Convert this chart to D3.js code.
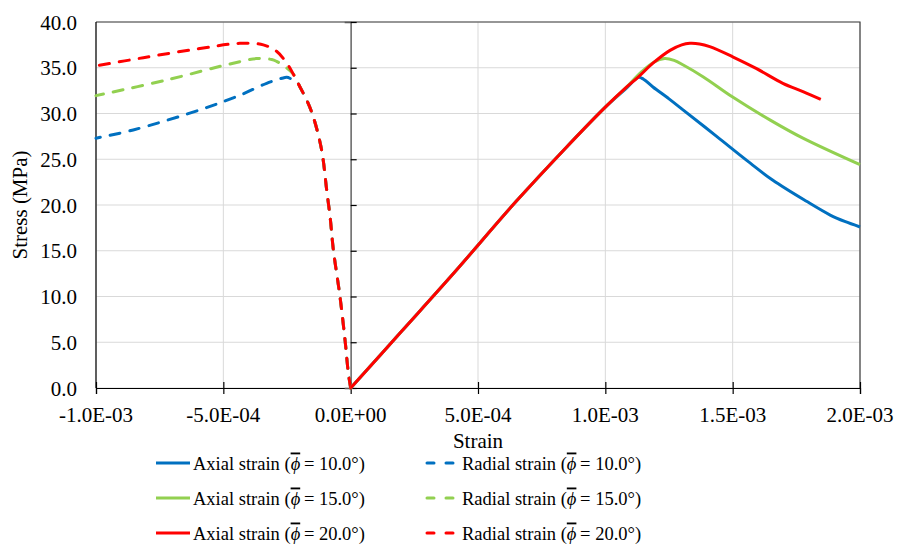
<!DOCTYPE html>
<html>
<head>
<meta charset="utf-8">
<script src="https://cdn.jsdelivr.net/npm/d3@7"></script>
</head>
<body style="margin:0">
<svg id="chart" width="898" height="545"></svg>
<script>
/* DATA: [strain, stress in MPa] */
const angles = ["10.0", "15.0", "20.0"];
const colors = ["#0070C0", "#92D050", "#FF0000"];

const axial10 = [[0, 0], [0.2e-3, 6.2], [0.4e-3, 12.4], [0.65e-3, 20.4], [0.85e-3, 26.4], [1.0e-3, 30.7],
  [1.08e-3, 32.7], [1.13e-3, 33.95], [1.15e-3, 33.75], [1.187e-3, 32.9], [1.25e-3, 31.6], [1.305e-3, 30.4],
  [1.437e-3, 27.5], [1.568e-3, 24.6], [1.658e-3, 22.7], [1.79e-3, 20.4], [1.883e-3, 18.9],
  [1.94e-3, 18.2], [2.0e-3, 17.6]];
const axial15 = [[0, 0], [0.2e-3, 6.2], [0.4e-3, 12.4], [0.65e-3, 20.4], [0.85e-3, 26.4], [1.0e-3, 30.7],
  [1.08e-3, 32.8], [1.14e-3, 34.5], [1.19e-3, 35.6], [1.233e-3, 36.0], [1.27e-3, 35.8], [1.306e-3, 35.3],
  [1.385e-3, 34.0], [1.5e-3, 31.8], [1.646e-3, 29.3], [1.776e-3, 27.3], [2.0e-3, 24.4]];
const axial20 = [[0, 0], [0.2e-3, 6.2], [0.4e-3, 12.4], [0.65e-3, 20.4], [0.85e-3, 26.4], [1.0e-3, 30.7],
  [1.08e-3, 32.8], [1.128e-3, 33.95], [1.187e-3, 35.5], [1.254e-3, 36.9], [1.3e-3, 37.5], [1.332e-3, 37.67],
  [1.37e-3, 37.6], [1.41e-3, 37.3], [1.5e-3, 36.2], [1.594e-3, 34.9], [1.697e-3, 33.3], [1.776e-3, 32.4],
  [1.846e-3, 31.55]];

// radial series listed from the origin outward, as plotted
const radial10 = [[0, 0], [-0.009e-3, 1.6], [-0.022e-3, 5.2], [-0.042e-3, 10.0], [-0.068e-3, 15.1],
  [-0.08e-3, 18.5], [-0.094e-3, 21.6], [-0.114e-3, 26.0], [-0.147e-3, 29.65], [-0.17e-3, 31.3],
  [-0.199e-3, 32.9], [-0.21e-3, 33.4], [-0.235e-3, 33.8], [-0.251e-3, 33.95], [-0.27e-3, 33.85],
  [-0.33e-3, 33.3], [-0.435e-3, 32.0], [-0.592e-3, 30.4], [-0.854e-3, 28.2], [-1.0e-3, 27.3]];
const radial15 = [[0, 0], [-0.009e-3, 1.6], [-0.022e-3, 5.2], [-0.042e-3, 10.0], [-0.068e-3, 15.1],
  [-0.08e-3, 18.5], [-0.094e-3, 21.6], [-0.114e-3, 26.0], [-0.147e-3, 29.65], [-0.17e-3, 31.3],
  [-0.199e-3, 32.9], [-0.225e-3, 34.3], [-0.262e-3, 35.2], [-0.291e-3, 35.7], [-0.31e-3, 35.9],
  [-0.369e-3, 36.0], [-0.461e-3, 35.5], [-0.723e-3, 33.66], [-1.0e-3, 31.95]];
const radial20 = [[0, 0], [-0.009e-3, 1.6], [-0.022e-3, 5.2], [-0.042e-3, 10.0], [-0.068e-3, 15.1],
  [-0.08e-3, 18.5], [-0.094e-3, 21.6], [-0.114e-3, 26.0], [-0.147e-3, 29.65], [-0.17e-3, 31.3],
  [-0.199e-3, 32.9], [-0.225e-3, 34.3], [-0.251e-3, 35.5], [-0.291e-3, 36.8], [-0.343e-3, 37.5],
  [-0.435e-3, 37.67], [-0.592e-3, 37.1], [-0.814e-3, 36.1], [-1.0e-3, 35.2]];

const axialSeries = [axial10, axial15, axial20];
const radialSeries = [radial10, radial15, radial20];

const xTicks = [-1.0e-3, -0.5e-3, 0, 0.5e-3, 1.0e-3, 1.5e-3, 2.0e-3];
const xTickLabels = ["-1.0E-03", "-5.0E-04", "0.0E+00", "5.0E-04", "1.0E-03", "1.5E-03", "2.0E-03"];
const yTicks = [0, 5, 10, 15, 20, 25, 30, 35, 40];

/* CONFIGURATION */
const config = {
    width: 898,
    height: 545,
    margin: { top: 22, right: 38, bottom: 157, left: 96 }
};
const fontStyle = size => `font-family:'Liberation Serif';font-size:${size}px`;

const svg = d3.select("#chart");

const x = d3.scaleLinear()
    .domain([-1.0e-3, 2.0e-3])
    .range([config.margin.left, config.width - config.margin.right]);

const y = d3.scaleLinear()
    .domain([0, 40])
    .range([config.height - config.margin.bottom, config.margin.top]);

const [x0, x1] = x.range();
const [yb, yt] = y.range();

// gridlines
svg.append("g")
    .selectAll("line")
    .data(yTicks)
    .join("line")
    .attr("x1", x0).attr("x2", x1)
    .attr("y1", d => y(d)).attr("y2", d => y(d))
    .attr("stroke", "#d9d9d9").attr("stroke-width", 1);

svg.append("g")
    .selectAll("line")
    .data(xTicks)
    .join("line")
    .attr("x1", d => x(d)).attr("x2", d => x(d))
    .attr("y1", yt).attr("y2", yb)
    .attr("stroke", "#d9d9d9").attr("stroke-width", 1);

// plot border (top / right)
svg.append("path")
    .attr("d", `M${x0},${yt}H${x1}V${yb}`)
    .attr("fill", "none")
    .attr("stroke", "#404040")
    .attr("stroke-width", 1.2);

// left edge
svg.append("line")
    .attr("x1", x0).attr("x2", x0).attr("y1", yt).attr("y2", yb)
    .attr("stroke", "#000").attr("stroke-width", 1.2);

// x axis with cross ticks (labels drawn separately)
const xAxis = svg.append("g")
    .attr("transform", `translate(0,${yb})`)
    .call(d3.axisBottom(x).tickValues(xTicks).tickSize(6).tickFormat(""));
xAxis.select(".domain").attr("stroke", "#000").attr("stroke-width", 1.2);
xAxis.selectAll(".tick line").attr("y1", -6).attr("stroke", "#000").attr("stroke-width", 1.2);

svg.append("g")
    .selectAll("text")
    .data(xTicks)
    .join("text")
    .attr("x", d => x(d))
    .attr("y", yb + 34)
    .attr("text-anchor", "middle")
    .attr("style", fontStyle(21))
    .text((d, i) => xTickLabels[i]);

// vertical axis at strain = 0 with cross ticks, labels on the left edge
const yAxis = svg.append("g")
    .attr("transform", `translate(${x(0)},0)`)
    .call(d3.axisLeft(y).tickValues(yTicks).tickSize(6).tickFormat(""));
yAxis.select(".domain").attr("stroke", "#595959").attr("stroke-width", 1.3);
yAxis.selectAll(".tick line").attr("x2", 6).attr("stroke", "#000").attr("stroke-width", 1.2);

svg.append("g")
    .selectAll("text")
    .data(yTicks)
    .join("text")
    .attr("x", x0 - 19)
    .attr("y", d => y(d) + 7.5)
    .attr("text-anchor", "end")
    .attr("style", fontStyle(21))
    .text(d => d.toFixed(1));

// axis titles
svg.append("text")
    .attr("x", (x0 + x1) / 2)
    .attr("y", 448)
    .attr("text-anchor", "middle")
    .attr("style", fontStyle(21))
    .text("Strain");

svg.append("text")
    .attr("transform", `translate(27,${(yt + yb) / 2}) rotate(-90)`)
    .attr("text-anchor", "middle")
    .attr("style", fontStyle(21))
    .text("Stress (MPa)");

// series
const line = d3.line()
    .x(d => x(d[0]))
    .y(d => y(d[1]))
    .curve(d3.curveCatmullRom.alpha(0.5));

const plot = svg.append("g");

radialSeries.forEach((s, i) => {
    plot.append("path")
        .datum(s)
        .attr("d", line)
        .attr("fill", "none")
        .attr("stroke", colors[i])
        .attr("stroke-width", 3)
        .attr("stroke-linecap", "round")
        .attr("stroke-dasharray", "10,10");
});

axialSeries.forEach((s, i) => {
    plot.append("path")
        .datum(s)
        .attr("d", line)
        .attr("fill", "none")
        .attr("stroke", colors[i])
        .attr("stroke-width", 3)
        .attr("stroke-linejoin", "round");
});

// legend
const legendRows = [463, 498, 533];
const legend = svg.append("g");

function legendLabel(g, tx, ty, prefix, angle) {
    const t = g.append("text")
        .attr("x", tx)
        .attr("y", ty + 6.5)
        .attr("style", fontStyle(18.5));
    t.append("tspan").text(prefix + " (");
    t.append("tspan")
        .attr("style", "font-style:italic;text-decoration:overline")
        .text("\u03D5");
    t.append("tspan").text("\u2009= " + angle + "\u00B0)");
}

angles.forEach((a, i) => {
    const ry = legendRows[i];
    legend.append("line")
        .attr("x1", 156).attr("x2", 190)
        .attr("y1", ry).attr("y2", ry)
        .attr("stroke", colors[i]).attr("stroke-width", 3);
    legendLabel(legend, 193, ry, "Axial strain", a);

    legend.append("line")
        .attr("x1", 427).attr("x2", 455)
        .attr("y1", ry).attr("y2", ry)
        .attr("stroke", colors[i]).attr("stroke-width", 3)
        .attr("stroke-linecap", "round")
        .attr("stroke-dasharray", "7,12");
    legendLabel(legend, 462, ry, "Radial strain", a);
});
</script>
</body>
</html>
